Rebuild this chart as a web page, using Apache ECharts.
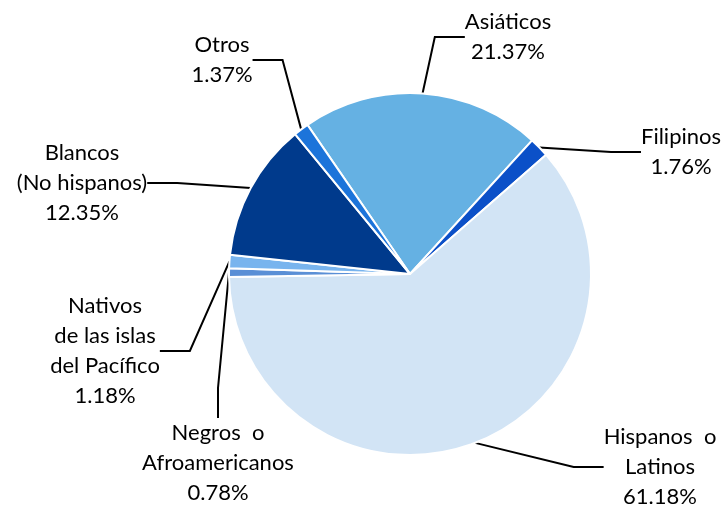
<!DOCTYPE html>
<html>
<head>
<meta charset="utf-8">
<script src="https://cdn.jsdelivr.net/npm/echarts@6/dist/echarts.min.js"></script>
<style>
  html, body { margin: 0; padding: 0; background: #fff; }
  #chart { width: 724px; height: 506px; }
</style>
</head>
<body>
<div id="chart"></div>
<script>
// datos (orden en sentido horario desde Asiáticos)
const categorias = ['Asiáticos', 'Filipinos', 'Hispanos  o\nLatinos', 'Negros  o\nAfroamericanos',
  'Nativos\nde las islas\ndel Pacífico', 'Blancos\n(No hispanos)', 'Otros'];
const porcentajes = [21.37, 1.76, 61.18, 0.78, 1.18, 12.35, 1.37];
const colores = ['#65b1e3', '#0b50c8', '#d2e4f5', '#5a8fd6', '#78b4ee', '#003a8c', '#1c74da'];
// posición de cada etiqueta (centro del texto)
const posEtiquetas = [[508, 37], [681, 152], [660, 467], [218, 463], [105, 351], [82, 183], [222, 60]];

const myChart = echarts.init(document.getElementById('chart'));

let option = {
  backgroundColor: '#fff',
  animation: false,
  series: [
    {
      type: 'pie',
      center: [410, 274],
      radius: 181,
      startAngle: 124.5,
      clockwise: true,
      data: categorias.map((c, i) => ({
        name: c,
        value: porcentajes[i],
        itemStyle: { color: colores[i] }
      })),
      itemStyle: { borderColor: '#fff', borderWidth: 2 },
      label: {
        show: true,
        position: 'outside',
        formatter: p => p.name + '\n' + p.value.toFixed(2) + '%',
        fontFamily: 'Lato, "Open Sans", sans-serif',
        fontSize: 22,
        lineHeight: 30,
        color: '#000',
        align: 'center'
      },
      labelLine: {
        show: true,
        lineStyle: { color: '#000', width: 2 }
      },
      labelLayout: function (params) {
        const p = posEtiquetas[params.dataIndex];
        return {
          x: p[0],
          y: p[1],
          align: 'center',
          verticalAlign: 'middle'
        };
      },
      emphasis: { disabled: true }
    }
  ]
};

myChart.setOption(option);
</script>
</body>
</html>
